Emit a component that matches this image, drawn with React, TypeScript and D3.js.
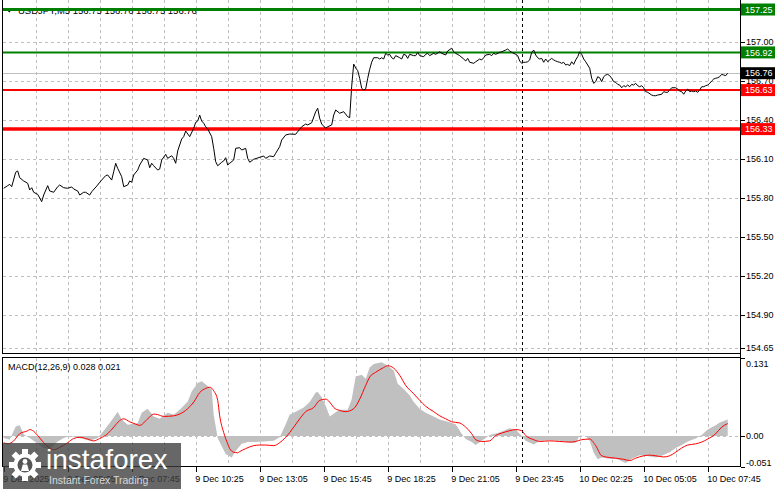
import React, { useEffect } from 'react'
import * as d3 from 'd3'

// chart header
const symbolTitle = 'USDJPY,M5  156.75 156.76 156.75 156.76'
const macdTitle = 'MACD(12,26,9) 0.028 0.021'

// x axis: bar index (M5 bars from 9 Dec 02:25), labels every 32 bars
const timeLabels = [
    '9 Dec 2025', '9 Dec 05:05', '9 Dec 07:45', '9 Dec 10:25', '9 Dec 13:05', '9 Dec 15:45',
    '9 Dec 18:25', '9 Dec 21:05', '9 Dec 23:45', '10 Dec 02:25', '10 Dec 05:05', '10 Dec 07:45',
]
const daySeparatorBar = 259

// right axis
const priceTicks = [157.0, 156.7, 156.4, 156.1, 155.8, 155.5, 155.2, 154.9, 154.65]
const macdTicks = [0.131, 0.0, -0.051]
const currentPrice = 156.76

// horizontal levels [price, color, width]
const resistanceLevels = [157.25, 156.92]
const supportLevels = [156.63, 156.33]

// close prices [bar, price]
const closes: [number, number][] = [
    [0, 155.875], [2, 155.895], [3, 155.905], [4, 155.887], [6, 155.998], [7, 156.008], [8, 155.956], [10, 155.931],
    [12, 155.913], [13, 155.862], [14, 155.879], [15, 155.844], [17, 155.828], [19, 155.772], [20, 155.823], [22, 155.895],
    [23, 155.854], [25, 155.844], [27, 155.887], [28, 155.9], [30, 155.879], [32, 155.875], [34, 155.885], [35, 155.869],
    [37, 155.854], [38, 155.823], [40, 155.844], [41, 155.844], [43, 155.823], [44, 155.848], [47, 155.9], [48, 155.921],
    [49, 155.938], [51, 155.972], [52, 155.977], [54, 155.938], [55, 156.002], [56, 156.067], [57, 156.028], [59, 155.964],
    [60, 155.887], [62, 155.9], [63, 155.931], [64, 155.921], [65, 155.977], [67, 156.015], [68, 156.054], [70, 156.105],
    [72, 156.092], [73, 156.033], [74, 156.067], [75, 156.048], [77, 156.015], [78, 156.023], [79, 156.092], [81, 156.136],
    [82, 156.105], [84, 156.125], [85, 156.105], [86, 156.067], [87, 156.162], [89, 156.254], [90, 156.272], [91, 156.315],
    [93, 156.272], [95, 156.336], [96, 156.382], [97, 156.392], [98, 156.438], [99, 156.392], [100, 156.375], [101, 156.348],
    [102, 156.331], [104, 156.272], [105, 156.182], [106, 156.079], [107, 156.048], [109, 156.075], [110, 156.085], [111, 156.11],
    [112, 156.054], [113, 156.067], [115, 156.092], [116, 156.182], [118, 156.187], [119, 156.169], [121, 156.182], [122, 156.105],
    [123, 156.075], [125, 156.098], [130, 156.123], [131, 156.105], [133, 156.123], [135, 156.118], [136, 156.144], [138, 156.195],
    [139, 156.246], [141, 156.285], [143, 156.292], [146, 156.29], [147, 156.31], [149, 156.348], [151, 156.369], [152, 156.362],
    [154, 156.379], [156, 156.464], [157, 156.49], [158, 156.413], [159, 156.369], [161, 156.336], [162, 156.348], [164, 156.362],
    [165, 156.438], [166, 156.477], [168, 156.452], [170, 156.464], [172, 156.425], [173, 156.418], [174, 156.66], [175, 156.83],
    [176, 156.8], [177, 156.78], [178, 156.72], [179, 156.644], [180, 156.63], [181, 156.64], [182, 156.72], [183, 156.79],
    [184, 156.845], [185, 156.879], [187, 156.879], [188, 156.869], [189, 156.879], [190, 156.869], [191, 156.913], [192, 156.9],
    [193, 156.905], [194, 156.879], [195, 156.869], [196, 156.895], [198, 156.879], [199, 156.869], [200, 156.905], [201, 156.9],
    [202, 156.874], [203, 156.905], [205, 156.895], [206, 156.895], [207, 156.921], [208, 156.895], [210, 156.887], [211, 156.905],
    [212, 156.913], [213, 156.895], [215, 156.913], [216, 156.905], [218, 156.925], [219, 156.913], [221, 156.9], [222, 156.931],
    [224, 156.952], [225, 156.925], [226, 156.913], [228, 156.895], [230, 156.869], [231, 156.854], [232, 156.874], [233, 156.844],
    [235, 156.836], [236, 156.848], [238, 156.869], [239, 156.862], [240, 156.879], [241, 156.9], [243, 156.905], [244, 156.895],
    [245, 156.913], [246, 156.905], [248, 156.921], [249, 156.925], [251, 156.938], [252, 156.946], [253, 156.931], [254, 156.921],
    [256, 156.905], [257, 156.895], [258, 156.854], [259, 156.836], [260, 156.844], [261, 156.844], [262, 156.848], [263, 156.862],
    [264, 156.921], [265, 156.938], [266, 156.9], [267, 156.879], [268, 156.869], [269, 156.874], [270, 156.844], [271, 156.869],
    [272, 156.848], [273, 156.862], [274, 156.874], [275, 156.862], [276, 156.854], [277, 156.848], [278, 156.844], [279, 156.836],
    [280, 156.844], [281, 156.823], [282, 156.828], [283, 156.818], [284, 156.848], [285, 156.828], [286, 156.862], [287, 156.887],
    [288, 156.925], [289, 156.905], [290, 156.869], [291, 156.848], [293, 156.798], [294, 156.721], [295, 156.682], [296, 156.695],
    [297, 156.733], [298, 156.725], [299, 156.695], [300, 156.733], [301, 156.746], [302, 156.751], [303, 156.741], [304, 156.721],
    [305, 156.695], [306, 156.69], [307, 156.674], [308, 156.669], [309, 156.648], [310, 156.664], [311, 156.656], [312, 156.669],
    [313, 156.656], [314, 156.674], [315, 156.669], [316, 156.682], [317, 156.664], [318, 156.656], [319, 156.664], [320, 156.648],
    [321, 156.618], [322, 156.613], [324, 156.592], [325, 156.587], [326, 156.587], [327, 156.592], [329, 156.598], [330, 156.618],
    [331, 156.613], [332, 156.613], [333, 156.631], [334, 156.648], [336, 156.648], [337, 156.638], [338, 156.623], [339, 156.618],
    [340, 156.598], [341, 156.623], [342, 156.638], [343, 156.618], [344, 156.623], [345, 156.618], [346, 156.623], [347, 156.613],
    [348, 156.631], [349, 156.656], [350, 156.656], [351, 156.664], [352, 156.669], [353, 156.682], [354, 156.7], [355, 156.715],
    [356, 156.721], [357, 156.725], [358, 156.733], [359, 156.751], [360, 156.746], [361, 156.741], [362, 156.76],
]

// MACD main (histogram) [bar, value]
const macdMain: [number, number][] = [
    [0, -0.003], [3, -0.006], [6, 0.016], [8, 0.018], [10, 0.003], [13, -0.003], [17, -0.013], [20, -0.02], [23, -0.022],
    [27, -0.009], [30, -0.003], [33, 0], [38, -0.003], [43, -0.008], [47, -0.003], [50, 0.009], [53, 0.022], [57, 0.041],
    [59, 0.028], [62, 0.019], [67, 0.022], [69, 0.039], [72, 0.046], [75, 0.033], [78, 0.029], [82, 0.039], [85, 0.036],
    [88, 0.044], [92, 0.058], [94, 0.075], [97, 0.089], [99, 0.092], [102, 0.084], [104, 0.078], [105, 0.036], [107, -0.003],
    [109, -0.017], [111, -0.03], [114, -0.036], [116, -0.025], [119, -0.013], [122, -0.01], [126, -0.01], [130, -0.009],
    [135, -0.008], [138, -0.002], [141, 0.02], [143, 0.036], [146, 0.041], [150, 0.048], [153, 0.057], [156, 0.073],
    [157, 0.074], [159, 0.065], [161, 0.051], [163, 0.033], [166, 0.04], [168, 0.044], [172, 0.044], [174, 0.062], [176, 0.1],
    [179, 0.103], [181, 0.096], [183, 0.115], [185, 0.121], [189, 0.124], [192, 0.118], [195, 0.11], [197, 0.088], [200, 0.079],
    [203, 0.068], [205, 0.057], [208, 0.046], [211, 0.039], [215, 0.033], [218, 0.028], [222, 0.024], [226, 0.02], [229, 0.004],
    [231, -0.005], [234, -0.01], [236, -0.015], [239, -0.008], [243, 0.002], [247, 0.005], [250, 0.009], [253, 0.013],
    [256, 0.011], [259, 0], [261, -0.008], [265, -0.014], [268, -0.008], [273, -0.007], [278, -0.008], [283, -0.011],
    [286, -0.011], [288, 0.001], [291, 0], [293, -0.008], [295, -0.028], [297, -0.039], [299, -0.036], [303, -0.038],
    [307, -0.039], [311, -0.045], [314, -0.038], [318, -0.032], [321, -0.033], [326, -0.036], [329, -0.033], [333, -0.027],
    [336, -0.02], [339, -0.015], [342, -0.009], [346, -0.004], [349, 0.002], [352, 0.011], [356, 0.018], [358, 0.023], [362, 0.028],
]

// MACD signal [bar, value]
const macdSignal: [number, number][] = [
    [0, -0.011], [2, -0.013], [5, -0.008], [8, 0.004], [12, 0.009], [13, 0.011], [15, 0.008], [17, 0.001], [20, -0.011],
    [23, -0.02], [25, -0.023], [28, -0.019], [32, -0.011], [35, -0.004], [38, -0.002], [42, -0.005], [45, -0.008], [48, -0.004],
    [52, 0.004], [55, 0.015], [58, 0.026], [60, 0.029], [63, 0.024], [66, 0.02], [68, 0.018], [72, 0.029], [75, 0.037],
    [77, 0.036], [80, 0.033], [85, 0.034], [88, 0.037], [92, 0.046], [95, 0.057], [98, 0.073], [101, 0.08], [103, 0.082],
    [105, 0.076], [107, 0.06], [108, 0.034], [110, 0.006], [112, -0.013], [113, -0.021], [115, -0.027], [117, -0.028],
    [118, -0.026], [121, -0.021], [125, -0.016], [128, -0.015], [131, -0.015], [135, -0.016], [138, -0.011], [141, -0.002],
    [145, 0.015], [148, 0.029], [151, 0.041], [155, 0.048], [158, 0.06], [161, 0.062], [163, 0.057], [165, 0.048], [168, 0.043],
    [171, 0.041], [175, 0.046], [178, 0.062], [181, 0.085], [183, 0.099], [186, 0.107], [190, 0.115], [192, 0.118], [195, 0.114],
    [198, 0.102], [201, 0.085], [205, 0.071], [208, 0.06], [211, 0.05], [215, 0.041], [218, 0.034], [221, 0.029], [224, 0.024],
    [228, 0.022], [231, 0.015], [234, 0.004], [236, -0.006], [239, -0.009], [243, -0.008], [246, 0.001], [249, 0.005],
    [253, 0.009], [256, 0.011], [259, 0.009], [261, 0.001], [265, -0.006], [268, -0.009], [273, -0.008], [278, -0.009],
    [283, -0.01], [286, -0.009], [289, -0.006], [293, -0.005], [296, -0.016], [299, -0.033], [303, -0.036], [306, -0.037],
    [310, -0.039], [313, -0.041], [316, -0.037], [320, -0.033], [323, -0.032], [326, -0.033], [330, -0.035], [333, -0.033],
    [336, -0.027], [339, -0.02], [342, -0.015], [346, -0.013], [349, -0.01], [352, -0.005], [356, 0.004], [359, 0.015], [362, 0.021],
]

const FONT = '"Liberation Sans", Arial, sans-serif'

export default function App() {
    useEffect(() => {
        document.body.style.margin = '0'
    }, [])

    const W = 781
    const H = 489
    const axisX = 740.5
    const mainBottom = 353.5
    const macdTop = 357.5
    const macdBottom = 466.5

    const x = d3.scaleLinear().domain([0, 352]).range([3.7, 707.7])
    const y = d3.scaleLinear().domain([154.65, 157]).range([347.5, 42])
    const ym = d3.scaleLinear().domain([-0.051, 0.131]).range([macdBottom, 358])

    const px = (v: number) => Math.round(v) + 0.5

    const priceLine = d3.line<[number, number]>().x((d) => x(d[0])).y((d) => y(d[1]))
    const histArea = d3
        .area<[number, number]>()
        .x((d) => x(d[0]))
        .y0(ym(0))
        .y1((d) => ym(d[1]))
    const signalLine = d3
        .line<[number, number]>()
        .x((d) => x(d[0]))
        .y((d) => ym(d[1]))
        .curve(d3.curveMonotoneX)

    const gridBars = d3.range(16, 353, 16)
    const labelBars = timeLabels.map((_, i) => i * 32)

    const gridColor = '#c0c0c0'
    const dash = '3,3'

    // gear teeth for the watermark logo
    const gearTeeth = d3.range(8).map((i) => (i * 360) / 8)

    return (
        <svg
            width={W}
            height={H}
            style={{ position: 'absolute', left: 0, top: 0, background: '#fff' }}
            fontFamily={FONT}
        >
            <rect width={W} height={H} fill="#fff" />

            {/* vertical grid */}
            {gridBars.map((b) => (
                <g key={'vg' + b} stroke={gridColor} strokeDasharray={dash} shapeRendering="crispEdges">
                    <line x1={px(x(b))} x2={px(x(b))} y1={0} y2={mainBottom} />
                    <line x1={px(x(b))} x2={px(x(b))} y1={macdTop} y2={macdBottom} />
                </g>
            ))}

            {/* horizontal grid main */}
            {priceTicks.map((t) => (
                <line
                    key={'hg' + t}
                    x1={3}
                    x2={axisX}
                    y1={px(y(t))}
                    y2={px(y(t))}
                    stroke={gridColor}
                    strokeDasharray={dash}
                    shapeRendering="crispEdges"
                />
            ))}

            {/* current price line */}
            <line
                x1={3}
                x2={axisX}
                y1={px(y(currentPrice))}
                y2={px(y(currentPrice))}
                stroke="#c0c0c0"
                shapeRendering="crispEdges"
            />

            {/* header */}
            <path d="M6,9 L12.5,9 L9.25,12.5 Z" fill="#000" />
            <text x={18} y={13.5} fontSize={9.5} fill="#000">
                {symbolTitle}
            </text>

            {/* day separator */}
            <g stroke="#000" strokeDasharray="3,3" shapeRendering="crispEdges">
                <line x1={px(x(daySeparatorBar))} x2={px(x(daySeparatorBar))} y1={0} y2={mainBottom} />
                <line x1={px(x(daySeparatorBar))} x2={px(x(daySeparatorBar))} y1={macdTop} y2={macdBottom} />
            </g>

            {/* level lines */}
            <line x1={3} x2={axisX} y1={y(resistanceLevels[0])} y2={y(resistanceLevels[0])} stroke="#008000" strokeWidth={3} />
            <line x1={3} x2={axisX} y1={y(resistanceLevels[1])} y2={y(resistanceLevels[1])} stroke="#008000" strokeWidth={2} />
            <line x1={3} x2={axisX} y1={y(supportLevels[0])} y2={y(supportLevels[0])} stroke="#ff0000" strokeWidth={2} />
            <line x1={3} x2={axisX} y1={y(supportLevels[1])} y2={y(supportLevels[1])} stroke="#ff0000" strokeWidth={3.5} />

            {/* price */}
            <path d={priceLine(closes) ?? ''} fill="none" stroke="#000" strokeWidth={1} />

            {/* MACD */}
            <line
                x1={3}
                x2={axisX}
                y1={px(ym(0))}
                y2={px(ym(0))}
                stroke={gridColor}
                strokeDasharray={dash}
                shapeRendering="crispEdges"
            />
            <path d={histArea(macdMain) ?? ''} fill="#c0c0c0" />
            <path d={signalLine(macdSignal) ?? ''} fill="none" stroke="#ff0000" strokeWidth={1} />
            <text x={8} y={370} fontSize={9} fill="#000">
                {macdTitle}
            </text>

            {/* frames */}
            <g stroke="#000" fill="none" shapeRendering="crispEdges">
                <line x1={2.5} x2={2.5} y1={0} y2={mainBottom} />
                <line x1={2.5} x2={axisX} y1={mainBottom} y2={mainBottom} />
                <rect x={2.5} y={macdTop} width={axisX - 2.5} height={macdBottom - macdTop} />
                <line x1={axisX} x2={axisX} y1={0} y2={macdBottom} />
            </g>

            {/* right axis price ticks */}
            {priceTicks.map((t) => (
                <g key={'pt' + t}>
                    <line x1={axisX} x2={axisX + 4} y1={px(y(t))} y2={px(y(t))} stroke="#000" shapeRendering="crispEdges" />
                    <text x={746} y={y(t)} dy="0.35em" fontSize={9} fill="#000">
                        {t.toFixed(2)}
                    </text>
                </g>
            ))}
            {macdTicks.map((t, i) => (
                <g key={'mt' + t}>
                    <line x1={axisX} x2={axisX + 4} y1={px(ym(t))} y2={px(ym(t))} stroke="#000" shapeRendering="crispEdges" />
                    <text
                        x={746}
                        y={i === 0 ? ym(t) + 6 : i === macdTicks.length - 1 ? ym(t) - 4 : ym(t)}
                        dy="0.35em"
                        fontSize={9}
                        fill="#000"
                    >
                        {i === 1 ? t.toFixed(2) : t.toFixed(3)}
                    </text>
                </g>
            ))}

            {/* right axis value boxes */}
            {[
                { v: resistanceLevels[0], c: '#008000' },
                { v: resistanceLevels[1], c: '#008000' },
                { v: currentPrice, c: '#000' },
                { v: supportLevels[0], c: '#ff0000' },
                { v: supportLevels[1], c: '#ff0000' },
            ].map((b) => (
                <g key={'box' + b.v}>
                    <rect x={741} y={y(b.v) - 6} width={34} height={12} fill={b.c} />
                    <text x={745} y={y(b.v)} dy="0.35em" fontSize={9} fill="#fff">
                        {b.v.toFixed(2)}
                    </text>
                </g>
            ))}

            {/* x axis */}
            {labelBars.map((b, i) => (
                <g key={'xl' + b}>
                    <line x1={px(x(b))} x2={px(x(b))} y1={macdBottom} y2={macdBottom + 5} stroke="#000" shapeRendering="crispEdges" />
                    <text x={x(b) - 0.5} y={482} fontSize={9} fill="#000">
                        {timeLabels[i]}
                    </text>
                </g>
            ))}

            {/* watermark */}
            <g>
                <rect x={3} y={443} width={178} height={46} fill="#3c3c3c" opacity={0.78} />
                <g transform="translate(25,465)" fill="#fff">
                    {gearTeeth.map((a) => (
                        <rect key={'tooth' + a} x={-3} y={-16} width={6} height={7} transform={`rotate(${a})`} />
                    ))}
                    <circle r={11.5} />
                    <circle r={7.5} fill="#555" />
                    <circle cy={-3.5} r={2.4} />
                    <path d="M-4,6 L-2.2,-0.5 L2.2,-0.5 L4,6 Z" />
                </g>
                <text x={46} y={469} fontSize={28} fill="#fff" fontFamily={FONT}>
                    instaforex
                </text>
                <text x={49} y={484} fontSize={10.5} fill="#d8d8d8" fontFamily={FONT}>
                    Instant Forex Trading
                </text>
            </g>
        </svg>
    )
}
